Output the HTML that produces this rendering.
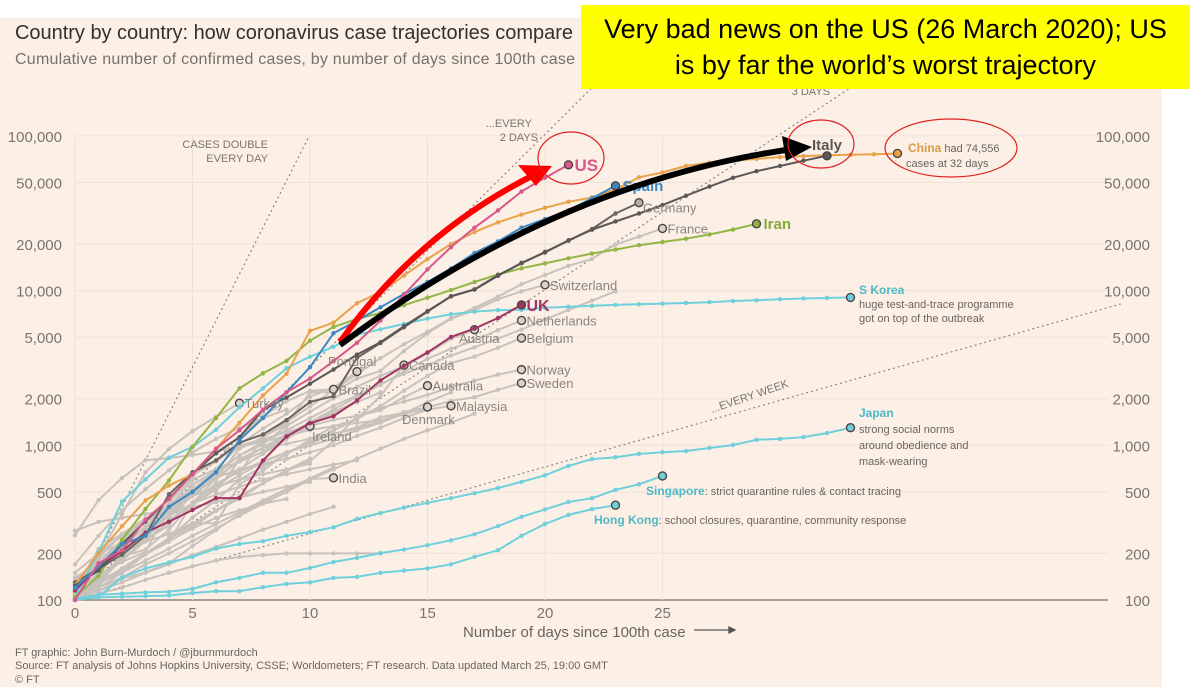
<!DOCTYPE html>
<html><head><meta charset="utf-8">
<style>
html,body{margin:0;padding:0;background:#fff;}
#wrap{position:relative;width:1200px;height:687px;overflow:hidden;background:#fff;font-family:"Liberation Sans",sans-serif;}
#bg{position:absolute;left:0;top:18px;width:1162px;height:669px;background:#fcf0e6;}
svg{position:absolute;left:0;top:0;}
#yellow{position:absolute;left:581px;top:5px;width:609px;height:84px;background:#ffff00;color:#000;font-size:27px;line-height:36px;text-align:center;padding-top:6px;box-sizing:border-box;}
</style></head>
<body>
<div id="wrap">
<div id="bg"></div>
<svg id="chart" width="1200" height="687" viewBox="0 0 1200 687"></svg>
<div id="yellow">Very bad news on the US (26 March 2020); US<br>is by far the world’s worst trajectory</div>
</div>
<script>
// ---- data ----
const yTicks = [100,200,500,1000,2000,5000,10000,20000,50000,100000];
const yTickLabels = ["100","200","500","1,000","2,000","5,000","10,000","20,000","50,000","100,000"];
const xTicks = [0,5,10,15,20,25];
const usCases = [100,173,210,330,450,650,950,1250,1700,2200,2700,3500,4600,6400,9400,13700,19100,25500,33000,43700,53700,65000];
const spainCases = [120,165,230,260,400,500,670,1080,1500,2200,3200,5300,6400,7800,9500,11370,13900,17500,20800,25500,29000,33000,39500,47600];
const chinaCases = [125,200,300,440,550,650,950,1400,2100,2900,5500,6200,8300,9800,12500,16000,20000,23900,27600,31000,34300,37500,40000,45000,54000,58000,64000,67000,69000,71000,73000,74000,75000,75500,76000,77000];
const italyCases = [124,155,229,322,453,655,888,1128,1694,2036,2502,3089,3858,4636,5883,7375,9172,10149,12462,15113,17660,21157,24747,27980,31506,35713,41035,47021,53578,59138,63927,69176,74386];
const germanyCases = [130,159,196,262,482,670,799,1040,1176,1457,1908,2078,3675,4585,5795,7300,9200,10200,12600,15000,17800,21000,25000,31500,37000];
const iranCases = [105,143,245,388,593,978,1501,2336,2922,3513,4747,5823,6566,7161,8042,9000,10075,11364,12729,13938,14991,16169,17361,18407,19644,20610,21638,23049,24811,27017];
const skoreaCases = [104,204,433,602,833,977,1261,1766,2337,3150,3736,4335,5186,5621,6088,6593,7041,7314,7478,7513,7755,7869,7979,8086,8162,8236,8320,8413,8565,8652,8799,8897,8961,9037];
const japanCases = [100,105,140,160,175,190,215,230,240,260,275,295,335,365,395,425,455,490,530,580,640,736,814,838,880,903,918,961,1005,1085,1100,1130,1200,1300];
const singaporeCases = [102,108,110,112,113,118,130,139,150,150,161,176,187,201,212,226,243,266,300,345,385,430,455,515,560,634];
const hongkongCases = [100,104,105,106,107,111,114,114,121,127,130,139,141,150,155,160,170,190,210,260,310,355,387,410];
const ukCases = [115,163,206,273,321,382,456,456,798,1140,1391,1543,1950,2626,3269,3983,5018,5683,6650,8077];
const franceCases = [100,130,191,212,285,423,613,949,1126,1412,1784,2281,2876,3661,4499,5423,6633,7730,9134,10995,12612,14459,16018,19856,22304,25233];
const switzerlandCases = [114,214,268,337,374,491,652,652,1139,1359,2200,2200,2700,3028,4075,5294,6575,7474,8795,9877,10897];
const netherlandsCases = [128,188,265,321,382,503,503,804,959,1135,1413,1705,2051,2460,2994,3631,4204,4749,5560,6412];
const belgiumCases = [109,169,200,239,267,314,314,559,689,886,1058,1243,1486,1795,2257,2815,3401,3743,4269,4937];
const norwayCases = [113,147,176,205,400,598,702,996,1090,1221,1333,1463,1550,1746,1914,2118,2385,2621,2863,3084];
const swedenCases = [137,161,203,248,355,500,599,814,961,1022,1103,1190,1279,1439,1639,1763,1934,2046,2286,2526];
const austriaCases = [104,131,182,246,302,504,655,860,1018,1332,1646,2013,2388,2814,3244,3924,4876,5588];
const canadaCases = [103,138,152,198,252,341,441,598,727,873,1087,1328,1470,2088,3300];
const australiaCases = [112,127,156,200,250,297,377,452,568,681,791,1071,1549,1682,2044,2430];
const malaysiaCases = [117,129,149,197,238,428,566,673,790,900,1030,1183,1306,1518,1624,1700,1800];
const denmarkCases = [262,442,615,801,827,864,914,977,1057,1151,1255,1326,1395,1450,1577,1770];
const portugalCases = [112,169,245,331,448,642,785,1020,1280,1600,2060,2362,2995];
const brazilCases = [121,200,234,291,428,621,904,1128,1546,1924,2247,2300];
const turkeyCases = [100,191,359,670,947,1236,1529,1872];
const irelandCases = [129,169,223,292,366,557,683,785,906,1125,1329];
const indiaCases = [107,114,137,151,173,223,283,360,434,519,606,616];
const other1 = [100,135,180,240,320,420,540,700,880,1100,1350,1600,1900];
const other2 = [105,130,160,200,250,310,380,470,570,690,820];
const other3 = [100,120,150,180,215,260,310,370,440,520,610,720];
const other4 = [110,150,210,280,350,420,480,540,600,650,700,750,800];
const other5 = [100,115,130,150,170,195,220,250,285,320,360,400];
const other6 = [100,110,120,135,150,165,180,190,195,200,200,200,200,200];
const other7 = [130,180,240,320,420,520,620,700,760,820,900,1000,1150,1300,1500,1700];
const other8 = [120,160,220,300,400,520,680,860,1050,1250,1500,1800,2100,2500,2900,3300,3800,4300,4900,5600,6500,7500,8600,9900];
const other9 = [150,200,260,330,400,470,540,600,650,700,760];
const other10 = [140,170,210,260,330,410,520,640,780,900,1000,1100,1250,1400,1600,1900,2200];
const other11 = [100,125,160,200,240,290,340,380,420,450];
const other12 = [100,140,190,260,350,470,620,790,970,1180,1400,1650,1900,2200];
const other13 = [170,260,380,520,690,900,1100,1300,1500,1700];
const other14 = [100,120,140,170,200,240,290,350,420,500,600,700,820,950,1100,1250,1400,1600];
const other15 = [280,320,340,360,380,400,430,460,500,540,580];

// ---- scales ----
const X0=75, PXDAY=23.5, Y100=600, PXDEC=154.7, XMAXPX=1108;
function xs(d){return X0+PXDAY*d;}
function ys(v){return Y100-PXDEC*Math.log10(v/100);}

const NS="http://www.w3.org/2000/svg";
const svg=document.getElementById('chart');
function mk(tag,attrs,parent){const e=document.createElementNS(NS,tag);for(const k in attrs)e.setAttribute(k,attrs[k]);(parent||svg).appendChild(e);return e;}
function txt(s,attrs,parent){const e=mk('text',attrs,parent);e.textContent=s;return e;}

// title
let t=txt("Country by country: how coronavirus case trajectories compare",{x:15,y:39,'font-size':20,fill:'#33302e',textLength:558});


t=txt("Cumulative number of confirmed cases, by number of days since 100th case",{x:15,y:64,'font-size':16,fill:'#77706a',textLength:560});



// grid
const grid=mk('g',{});


yTicks.forEach((v,i)=>{
  const y=ys(v);
  const l=mk('line',{x1:X0,x2:XMAXPX,y1:y,y2:y,stroke:i==0?'#8a8480':'#ece2d8','stroke-width':i==0?1.5:1},grid);
  
  
  const a=txt(yTickLabels[i],{x:62,y:y+6,'text-anchor':'end','font-size':15,fill:'#7a746e'});
  
  
  const b=txt(yTickLabels[i],{x:1150,y:y+6,'text-anchor':'end','font-size':15,fill:'#7a746e'});
  
  
});
xTicks.forEach(d=>{
  const x=xs(d);
  const l=mk('line',{x1:x,x2:x,y1:ys(100000),y2:Y100,stroke:'#ece2d8','stroke-width':1},grid);
  
  
  const a=txt(String(d),{x:x,y:618,'text-anchor':'middle','font-size':15,fill:'#7a746e'});
  
  
});
t=txt("Number of days since 100th case",{x:463,y:637,'font-size':15,fill:'#6a645e'});


let ar=mk('path',{d:'M694 630 H735 M735 630 l-6 -3 v6 z',stroke:'#555',fill:'#555','stroke-width':1.3});



// doubling reference lines
const clip=mk('clipPath',{id:'cp'});mk('rect',{x:X0,y:20,width:1090,height:580},clip);
[[1],[2],[3],[7]].forEach(([k])=>{
  const dEnd=k==1?Math.log2(1000):(k==7?44.5:60);
  const l=mk('line',{x1:xs(0),y1:ys(100),x2:xs(dEnd),y2:ys(100*Math.pow(2,dEnd/k)),stroke:'#8a8480','stroke-width':1.2,'stroke-dasharray':'2 3','clip-path':'url(#cp)'});
  
  
});
[['CASES DOUBLE',268,148,'end'],['EVERY DAY',268,162,'end'],['...EVERY',532,127,'end'],['2 DAYS',538,141,'end'],['3 DAYS',830,95,'end']].forEach(([s,x,y,a])=>{
  const e=txt(s,{x:x,y:y,'text-anchor':a,'font-size':11,fill:'#7a746e'});
  
  
});
t=txt('...EVERY WEEK',{x:0,y:0,'font-size':11,fill:'#7a746e',transform:'translate(712,413) rotate(-19)'});



function series(arr,color,w,name,endDot,dotColor){
  const g=mk('g',{});
  
  
  const pts=arr.map((v,i)=>xs(i).toFixed(1)+','+ys(v).toFixed(1)).join(' ');
  const p=mk('polyline',{points:pts,fill:'none',stroke:color,'stroke-width':w,'stroke-linejoin':'round'},g);
  
  
  arr.forEach((v,i)=>{
    const c=mk('circle',{cx:xs(i),cy:ys(v),r:2.2,fill:color},g);
    
    
  });
  if(endDot){
    const n=arr.length-1;
    const c=mk('circle',{cx:xs(n),cy:ys(arr[n]),r:4,fill:dotColor||color,stroke:'#4a4542','stroke-width':1.4},g);
    
    
  }
  return g;
}
const GR='#c8c2bc';
[other1,other2,other3,other4,other5,other6,other7,other8,other9,other10,other11,other12,other13,other14,other15].forEach(a=>series(a,GR,2,'other-country',false));
const grays=[[franceCases,'france'],[switzerlandCases,'switzerland'],[netherlandsCases,'netherlands'],[belgiumCases,'belgium'],[norwayCases,'norway'],[swedenCases,'sweden'],[austriaCases,'austria'],[canadaCases,'canada'],[australiaCases,'australia'],[malaysiaCases,'malaysia'],[denmarkCases,'denmark'],[portugalCases,'portugal'],[brazilCases,'brazil'],[turkeyCases,'turkey'],[irelandCases,'ireland'],[indiaCases,'india']];
grays.forEach(([a,n])=>series(a,GR,2,n+'-series',true,'#d8d2cc'));
const TEAL='#6fd0dc';
series(hongkongCases,TEAL,2,'hong-kong-series',true);
series(singaporeCases,TEAL,2,'singapore-series',true);
series(japanCases,TEAL,2,'japan-series',true);
series(skoreaCases,TEAL,2,'south-korea-series',true);
series(iranCases,'#93b546',2,'iran-series',true);
series(ukCases,'#a13462',2,'uk-series',true);
series(germanyCases,'#6a6562',2,'germany-series',true,'#b5afa9');
series(chinaCases,'#e9a24b',2,'china-series',true);
series(italyCases,'#5b5756',2,'italy-series',true);
series(spainCases,'#3b88c4',2,'spain-series',true);
series(usCases,'#d8588a',2,'us-series',true);

function lab(s,x,y,color,size,bold,name){
  const e=txt(s,{x:x,y:y,'font-size':size,fill:color,'font-weight':bold?'bold':'normal'});
  
  
  return e;
}
function endLab(arr,s,color,size,bold,name,dx,dy){const n=arr.length-1;return lab(s,xs(n)+(dx||7),ys(arr[n])+(dy||5),color,size,bold,name);}
endLab(usCases,'US','#d8588a',17,true,'us-label',6,6);
endLab(spainCases,'Spain','#3b88c4',15,true,'spain-label');
endLab(iranCases,'Iran','#87a83e',15,true,'iran-label');
endLab(ukCases,'UK','#a13462',16,true,'uk-label',5,6);
endLab(germanyCases,'Germany','#8a8480',13,false,'germany-label',4,10);
const GT='#8a8480';
[[franceCases,'France'],[switzerlandCases,'Switzerland'],[netherlandsCases,'Netherlands'],[belgiumCases,'Belgium'],[norwayCases,'Norway'],[swedenCases,'Sweden'],[canadaCases,'Canada'],[australiaCases,'Australia'],[malaysiaCases,'Malaysia'],[brazilCases,'Brazil'],[turkeyCases,'Turkey'],[indiaCases,'India']].forEach(([a,s])=>endLab(a,s,GT,13,false,s.toLowerCase()+'-label',5,5));
lab('Austria',459,343,GT,13,false,'austria-label');
lab('Denmark',402,424,GT,13,false,'denmark-label');
lab('Portugal',328,366,GT,13,false,'portugal-label');
lab('Ireland',312,441,GT,13,false,'ireland-label');
let c=txt('',{x:908,y:152,'font-size':11,fill:'#6a645e'});c.innerHTML='<tspan font-weight="bold" font-size="12" fill="#d99a44">China</tspan> had 74,556';


lab('cases at 32 days',906,167,'#6a645e',11,false,'china-note');
lab('S Korea',859,294,'#4fb8c6',12,true,'south-korea-label');
lab('huge test-and-trace programme',859,308,'#6a645e',11,false,'south-korea-note');
lab('got on top of the outbreak',859,322,'#6a645e',11,false,'south-korea-note');
lab('Japan',859,417,'#4fb8c6',12,true,'japan-label');
lab('strong social norms',859,433,'#6a645e',11,false,'japan-note');
lab('around obedience and',859,449,'#6a645e',11,false,'japan-note');
lab('mask-wearing',859,465,'#6a645e',11,false,'japan-note');
c=txt('',{x:646,y:495,'font-size':11,fill:'#6a645e'});c.innerHTML='<tspan font-weight="bold" font-size="12" fill="#4fb8c6">Singapore</tspan>: strict quarantine rules &amp; contact tracing';


c=txt('',{x:594,y:524,'font-size':11,fill:'#6a645e'});c.innerHTML='<tspan font-weight="bold" font-size="12" fill="#4fb8c6">Hong Kong</tspan>: school closures, quarantine, community response';



// footer
[['FT graphic: John Burn-Murdoch / @jburnmurdoch',656],['Source: FT analysis of Johns Hopkins University, CSSE; Worldometers; FT research. Data updated March 25, 19:00 GMT',669],['© FT',683]].forEach(([s,y])=>{
  const e=txt(s,{x:15,y:y,'font-size':11,fill:'#6a645e'});
  
  
});

// annotations
const ann=mk('g',{});


let e=mk('path',{d:'M340 342 Q420 230 540 172',fill:'none',stroke:'#ff0000','stroke-width':6},ann);


e=mk('path',{d:'M518 165 L552 166 L536 186 Z',fill:'#ff0000'},ann);


e=mk('path',{d:'M340 345 Q560 180 800 148',fill:'none',stroke:'#000','stroke-width':6},ann);


e=mk('path',{d:'M782 136 L812 147 L786 161 Z',fill:'#000'},ann);


lab('Italy',812,150,'#5b5756',15,true,'italy-label');
[[571,158,33,26,'us-highlight-ellipse'],[821,144,33,24,'italy-highlight-ellipse'],[951,148,66,29,'china-highlight-ellipse']].forEach(([cx,cy,rx,ry,n])=>{
  const el=mk('ellipse',{cx:cx,cy:cy,rx:rx,ry:ry,fill:'none',stroke:'#e02020','stroke-width':1.2},ann);
  
  
});
</script>
</body></html>
